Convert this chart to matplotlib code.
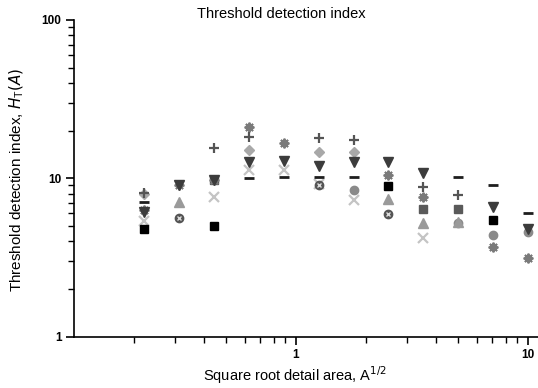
import numpy as np
import matplotlib
matplotlib.use("Agg")
import matplotlib.pyplot as plt
from matplotlib.ticker import LogLocator, NullFormatter, FixedLocator, FixedFormatter

nan = np.nan
# square-root detail area values (columns)
x = [0.221, 0.3125, 0.442, 0.625, 0.884, 1.25, 1.77, 2.5, 3.54, 5.0, 7.07, 10.0]

black_square = [4.76, nan, 5.01, nan, nan, nan, nan, 8.97, nan, nan, 5.45, nan]
light_cross  = [5.39, nan, 7.65, 11.3, 11.3, 9.2, 7.29, nan, 4.21, nan, nan, nan]
grey_tri_up  = [nan, 7.1, nan, nan, nan, nan, nan, 7.39, 5.19, 5.3, nan, nan]
dark_tri_dn  = [6.15, 9.06, 9.75, 12.7, 12.9, 11.9, 12.7, 12.7, 10.75, nan, 6.55, 4.78]
plus_mark    = [8.03, nan, 15.46, 18.3, nan, 17.9, 17.5, nan, 8.84, 7.84, nan, nan]
grey_diamond = [7.9, nan, nan, 15.1, nan, 14.7, 14.7, nan, nan, nan, nan, nan]
dash_mark    = [7.11, nan, nan, 10.1, 10.2, 10.2, 10.2, nan, nan, 10.2, 9.06, 6.06]
asterisk     = [6.3, 9.1, 9.8, 21.0, 16.8, nan, nan, 10.5, 7.58, nan, 3.69, 3.12]
circle_x     = [nan, 5.58, nan, nan, nan, 9.06, nan, 5.94, nan, nan, nan, nan]
grey_circle  = [nan, nan, nan, nan, nan, nan, 8.43, nan, nan, 5.24, 4.38, 4.6]
hatch_square = [nan, nan, 9.75, nan, nan, nan, nan, nan, 6.36, 6.36, nan, nan]

plt.rcParams['font.family'] = ['Liberation Sans', 'DejaVu Sans']

fig = plt.figure(figsize=(5.38, 3.88), dpi=100)
ax = fig.add_axes([74/538, 1-336.5/388, 1-74/538, (336.5-20)/388])
ax.set_xscale('log')
ax.set_yscale('log')
ax.set_xlim(0.1104, 11.04)
ax.set_ylim(1, 100)

ms = 6
ax.plot(x, grey_circle, 'o', color='#8a8a8a', ms=ms, ls='none')
ax.plot(x, light_cross, 'x', color='#c4c4c4', ms=ms+1, mew=1.6, ls='none')
ax.plot(x, grey_tri_up, '^', color='#9a9a9a', ms=ms+1, ls='none')
ax.plot(x, grey_diamond, 'D', color='#a8a8a8', ms=ms-1, ls='none')
ax.plot(x, hatch_square, 's', color='#5a5a5a', ms=ms, ls='none')
ax.plot(x, circle_x, 'o', color='#555555', ms=ms, ls='none')
ax.plot(x, circle_x, 'x', color='#dddddd', ms=ms-2.5, mew=1.0, ls='none')
ax.plot(x, asterisk, marker=(8, 2, 0), color='#7a7a7a', ms=ms+1, mew=1.4, ls='none')
ax.plot(x, dark_tri_dn, 'v', color='#3c3c3c', ms=ms+1, ls='none')
ax.plot(x, plus_mark, '+', color='#555555', ms=ms+1, mew=1.6, ls='none')
ax.plot(x, dash_mark, '_', color='#1e1e1e', ms=ms+1, mew=2.0, ls='none')
ax.plot(x, black_square, 's', color='#000000', ms=ms, ls='none')

for s in ['top', 'right']:
    ax.spines[s].set_visible(False)
for s in ['left', 'bottom']:
    ax.spines[s].set_linewidth(1.2)

ax.xaxis.set_major_locator(FixedLocator([1, 10]))
ax.xaxis.set_major_formatter(FixedFormatter(['1', '10']))
ax.xaxis.set_minor_locator(LogLocator(base=10, subs=np.arange(2, 10)))
ax.xaxis.set_minor_formatter(NullFormatter())
ax.yaxis.set_major_locator(FixedLocator([1, 10, 100]))
ax.yaxis.set_major_formatter(FixedFormatter(['1', '10', '100']))
ax.yaxis.set_minor_locator(LogLocator(base=10, subs=np.arange(2, 10)))
ax.yaxis.set_minor_formatter(NullFormatter())

ax.tick_params(which='major', direction='out', length=6, width=1.2, labelsize=8.5, pad=3)
ax.tick_params(which='minor', direction='out', length=4, width=1.0)
for lab in ax.get_xticklabels() + ax.get_yticklabels():
    lab.set_fontweight('bold')

fig.text(281/538, 1-14/388, 'Threshold detection index', ha='center', va='center', fontsize=10.5)
fig.text(295/538, 2/388, 'Square root detail area, A$^{1/2}$', ha='center', va='bottom', fontsize=10.5)
fig.text(17/538, 1-180/388, 'Threshold detection index, $H_{\\mathregular{T}}(A)$', ha='center', va='center',
         rotation=90, fontsize=11)

fig.savefig('out.png', dpi=100)
